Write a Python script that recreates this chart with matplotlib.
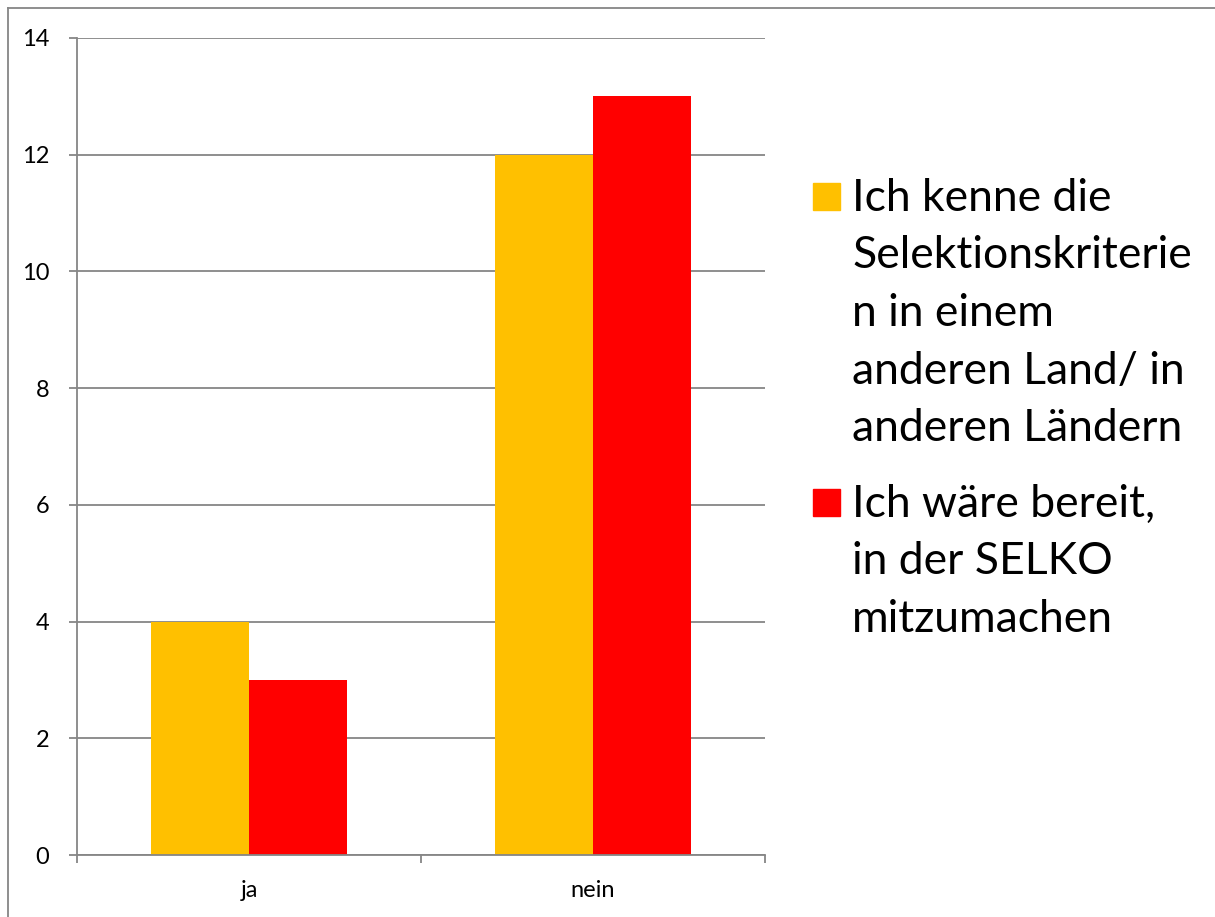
import numpy as np
import matplotlib.pyplot as plt
from matplotlib.patches import Rectangle

# ===== データ =====
categories = ["ja", "nein"]
kenne = [4, 12]
bereit = [3, 13]
labels = ["Ich kenne die\nSelektionskriterie\nn in einem\nanderen Land/ in\nanderen Ländern",
          "Ich wäre bereit,\nin der SELKO\nmitzumachen"]
colors = ["#FFC000", "#FF0000"]
yticks = [0, 2, 4, 6, 8, 10, 12, 14]

plt.rcParams['font.family'] = ['Lato', 'DejaVu Sans']

W, H = 1215, 917
fig = plt.figure(figsize=(W / 100, H / 100), dpi=100)
ax = fig.add_axes([77 / W, 1 - 855 / H, 688 / W, 817 / H])

x = np.arange(len(categories))
bw = 0.285
ax.bar(x - bw / 2, kenne, bw, color=colors[0], zorder=2)
ax.bar(x + bw / 2, bereit, bw, color=colors[1], zorder=2)

ax.set_xlim(-0.5, 1.5)
ax.set_ylim(0, 14)
ax.set_yticks(yticks)
ax.yaxis.grid(True, color="#868686", linewidth=1.3, zorder=1)
ax.set_axisbelow(True)

# x: Kategorie-Grenzen als Ticks, Beschriftung in der Mitte
ax.set_xticks([-0.5, 0.5, 1.5])
ax.set_xticklabels([])
ax.set_xticks(x, minor=True)
ax.set_xticklabels(categories, minor=True, fontsize=17)
ax.tick_params(axis="x", which="minor", length=0, pad=18)
ax.tick_params(axis="x", which="major", length=6, width=1.3, color="#868686")
ax.tick_params(axis="y", length=6, width=1.3, color="#868686", labelsize=17, pad=14)

for s in ["top", "right"]:
    ax.spines[s].set_visible(False)
for s in ["left", "bottom"]:
    ax.spines[s].set_color("#868686")
    ax.spines[s].set_linewidth(1.3)

# ===== Legende (manuell) =====
fs = 32
tops = [197, 503]
for lab, col, yc in zip(labels, colors, tops):
    fig.patches.append(Rectangle((813 / W, 1 - (yc + 13) / H), 27 / W, 27 / H,
                                 transform=fig.transFigure, color=col))
    fig.text(852 / W, 1 - (yc - 19) / H, lab, fontsize=fs, va="top", ha="left",
             linespacing=1.5)

# Rahmen
fig.add_artist(plt.Line2D([8 / W, 8 / W], [0, 1 - 8 / H], color="#868686", lw=1.3,
                          transform=fig.transFigure))
fig.add_artist(plt.Line2D([8 / W, 1], [1 - 8 / H, 1 - 8 / H], color="#868686", lw=1.3,
                          transform=fig.transFigure))

fig.savefig("out.png", dpi=100)
